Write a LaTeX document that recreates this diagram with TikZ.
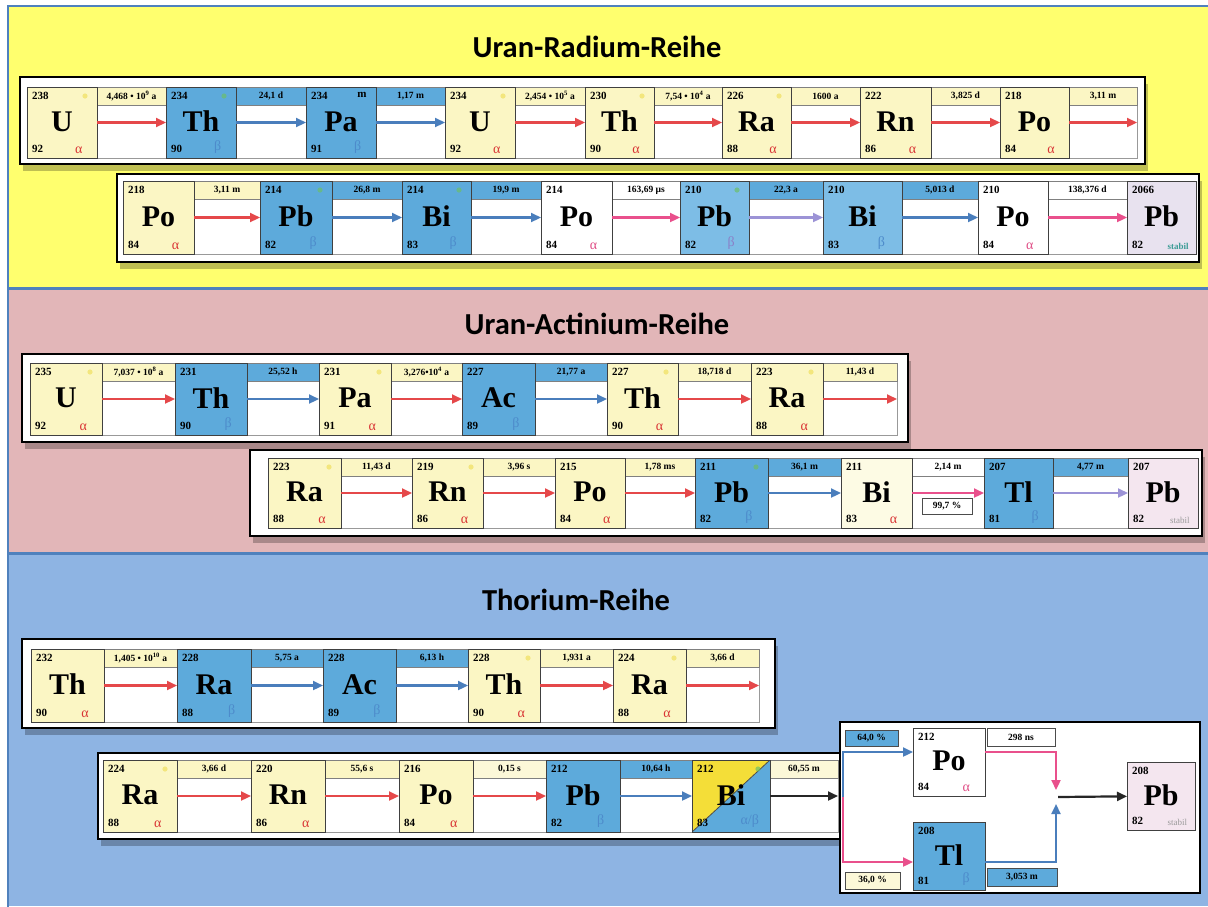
\documentclass[tikz,border=0pt]{standalone}
\usepackage{fontspec}
\setmainfont{Liberation Serif}
\newfontfamily\headfont{Carlito}
\usetikzlibrary{calc,arrows.meta}

% panel and box colours
\definecolor{PanelYellow}{HTML}{FFFF6E}
\definecolor{PanelPink}{HTML}{E2B6B8}
\definecolor{PanelBlue}{HTML}{8EB4E3}
\definecolor{PanelLine}{HTML}{4F81BD}
\definecolor{ElYellow}{HTML}{FBF6C4}
\definecolor{ElBlue}{HTML}{5DAADB}
\definecolor{ElBlueLt}{HTML}{7DBDE6}
\definecolor{ElCream}{HTML}{FDFBE4}
\definecolor{ElLav}{HTML}{E8E2EF}
\definecolor{ElLavPink}{HTML}{F4E6EF}
\definecolor{SplitYellow}{HTML}{F4DE38}
\definecolor{BandCream}{HTML}{FCF8D8}
% arrows and decay marks
\definecolor{ArRed}{HTML}{E5484A}
\definecolor{ArBlue}{HTML}{4A7EBC}
\definecolor{ArPink}{HTML}{E9508C}
\definecolor{ArViolet}{HTML}{9C93D6}
\definecolor{AlRed}{HTML}{D93535}
\definecolor{AlPink}{HTML}{E04E86}
\definecolor{BeBlue}{HTML}{4D8BCB}
\definecolor{BeViolet}{HTML}{8A80C8}
\definecolor{StabTeal}{HTML}{3C9C96}
\definecolor{StabGrey}{HTML}{9A9A9A}
\definecolor{SpotYellow}{HTML}{F0E060}
\definecolor{SpotGreen}{HTML}{6CBF6A}

\newcommand\decA{\textcolor{AlRed}{α}}
\newcommand\decAp{\textcolor{AlPink}{α}}
\newcommand\decB{\textcolor{BeBlue}{β}}
\newcommand\decBv{\textcolor{BeViolet}{β}}
\newcommand\decAB{\textcolor{BeBlue}{α/β}}
\newcommand\decStab{\textcolor{StabTeal}{\fontsize{9}{9}\selectfont\bfseries stabil}}
\newcommand\decStabG{\textcolor{StabGrey}{\fontsize{9}{9}\selectfont stabil}}
\newcommand\tenp[1]{10\textsuperscript{#1}}

% element box: name, left, right, fill style, mass, symbol, Z, decay
\newcommand\Elem[8]{%
  \node[elbox,#4,minimum width=#3-#2,minimum height=\ybot-\ytop,anchor=north west] (#1) at (#2,\ytop) {};
  \node[nums,anchor=north west] (#1-m) at ($(#1.north west)+(5,5)$) {#5};
  \node[symb] (#1-s) at ($(#1.center)+(0,-1)$) {#6};
  \node[nums,anchor=south west] (#1-z) at ($(#1.south west)+(5,-5)$) {#7};
  \node[decay,anchor=south] (#1-d) at ($(#1.south west)!0.74!(#1.south east)+(0,-4)$) {#8};
}
% decay cell between two boxes: name, left, right, band style, half-life
\newcommand\Trans[5]{%
  \draw[cell] (#2,\ytop) rectangle (#3,\ybot);
  \node[band,#4,minimum width=#3-#2,minimum height=\bandh,anchor=north west] (#1) at (#2,\ytop) {#5};
}
% white strip with drop shadow
\newcommand\Strip[4]{%
  \fill[stripshade] (#1+3,#2+7) rectangle (#3+3,#4+7);
  \draw[strip] (#1,#2) rectangle (#3,#4);
}
\newcommand\Spot[2]{\fill[#2] ($(#1.north east)+(-12,9)$) circle[radius=2.6pt];}

\begin{document}
\begin{tikzpicture}[x=1pt,y=-1pt,
  strip/.style={fill=white,draw=black,line width=1.3pt},
  stripshade/.style={fill=black,opacity=0.25},
  panel/.style={draw=PanelLine,line width=1.6pt},
  elbox/.style={draw=black!75,line width=0.9pt,inner sep=0pt,outer sep=0pt},
  cell/.style={fill=white,draw=black!40,line width=0.6pt},
  band/.style={draw=black!50,line width=0.6pt,inner sep=0pt,outer sep=0pt,
    font=\fontsize{9.5}{9.5}\selectfont\bfseries},
  lbl/.style={band,draw=black!70},
  yel/.style={fill=ElYellow}, blu/.style={fill=ElBlue}, blult/.style={fill=ElBlueLt},
  whi/.style={fill=white}, cream/.style={fill=ElCream}, lav/.style={fill=ElLav},
  lavp/.style={fill=ElLavPink},
  byel/.style={fill=ElYellow}, bblu/.style={fill=ElBlue}, bwhi/.style={fill=white},
  bcream/.style={fill=BandCream},
  split/.style={path picture={
    \fill[ElBlue] (path picture bounding box.north east) -- (path picture bounding box.south east)
      -- (path picture bounding box.south west) -- cycle;
    \fill[SplitYellow] (path picture bounding box.north west) -- (path picture bounding box.north east)
      -- (path picture bounding box.south west) -- cycle;
    \draw[black!70,line width=0.8pt] (path picture bounding box.south west) -- (path picture bounding box.north east);}},
  symb/.style={font=\fontsize{30}{30}\selectfont\bfseries,inner sep=0pt},
  nums/.style={font=\fontsize{11}{11}\selectfont\bfseries,inner sep=0pt},
  decay/.style={font=\fontsize{14}{14}\selectfont,inner sep=0pt},
  arr/.style={line width=2.2pt,-{Triangle[length=10pt,width=9pt]}},
  aarr/.style={arr,draw=ArRed}, barr/.style={arr,draw=ArBlue},
  parr/.style={arr,draw=ArPink}, varr/.style={arr,draw=ArViolet},
  karr/.style={arr,draw=black!85},
  spy/.style={SpotYellow,opacity=0.7}, spg/.style={SpotGreen,opacity=0.7},
  head/.style={font=\headfont\bfseries\fontsize{30.5}{30.5}\selectfont,inner sep=0pt}
]
\useasboundingbox (0,0) rectangle (1208,906);
\fill[white] (0,0) rectangle (1208,906);
\def\bandh{18}

% ---------- background panels ----------
\fill[PanelYellow] (8,6) rectangle (1208,288);
\fill[PanelPink] (8,289) rectangle (1208,553);
\fill[PanelBlue] (8,554) rectangle (1208,906);
\draw[panel] (8,6) rectangle (1210,288);
\draw[panel] (8,289) rectangle (1210,553);
\draw[panel] (8,554) rectangle (1210,908);

\node[head] (h1) at (597,47) {Uran-Radium-Reihe};
\node[head] (h2) at (597,324) {Uran-Actinium-Reihe};
\node[head] (h3) at (576,600) {Thorium-Reihe};

% ================= Uran-Radium-Reihe, line 1 =================
\Strip{20}{77}{1145}{164}
\def\ytop{87}\def\ybot{158}
\Trans{t11}{97}{166}{byel}{4,468 • \tenp{9} a}
\Trans{t12}{236}{306}{bblu}{24,1 d}
\Trans{t13}{376}{445}{bblu}{1,17 m}
\Trans{t14}{515}{585}{byel}{2,454 • \tenp{5} a}
\Trans{t15}{654}{722}{byel}{7,54 • \tenp{4} a}
\Trans{t16}{791}{860}{byel}{1600 a}
\Trans{t17}{931}{1000}{byel}{3,825 d}
\Trans{t18}{1069}{1137}{byel}{3,11 m}
\Elem{U238}{27}{97}{yel}{238}{U}{92}{\decA}
\Elem{Th234}{166}{236}{blu}{234}{Th}{90}{\decB}
\Elem{Pa234}{306}{376}{blu}{234}{Pa}{91}{\decB}
\node[nums,anchor=north] (Pa234-x) at ($(Pa234.north west)!0.8!(Pa234.north east)+(0,5)$) {m};
\Elem{U234}{445}{515}{yel}{234}{U}{92}{\decA}
\Elem{Th230}{585}{654}{yel}{230}{Th}{90}{\decA}
\Elem{Ra226}{722}{791}{yel}{226}{Ra}{88}{\decA}
\Elem{Rn222}{860}{931}{yel}{222}{Rn}{86}{\decA}
\Elem{Po218}{1000}{1069}{yel}{218}{Po}{84}{\decA}
\Spot{U238}{spy}\Spot{Th234}{spg}\Spot{U234}{spy}\Spot{Th230}{spy}\Spot{Ra226}{spy}
\coordinate (r1end) at (1137,122.5);
\draw[aarr] (U238) -- (Th234);
\draw[barr] (Th234) -- (Pa234);
\draw[barr] (Pa234) -- (U234);
\draw[aarr] (U234) -- (Th230);
\draw[aarr] (Th230) -- (Ra226);
\draw[aarr] (Ra226) -- (Rn222);
\draw[aarr] (Rn222) -- (Po218);
\draw[aarr] (Po218) -- (r1end);

% ================= Uran-Radium-Reihe, line 2 =================
\Strip{117}{174}{1199}{262}
\def\ytop{181}\def\ybot{254}
\Trans{t21}{194}{260}{byel}{3,11 m}
\Trans{t22}{332}{402}{bblu}{26,8 m}
\Trans{t23}{471}{541}{bblu}{19,9 m}
\Trans{t24}{612}{680}{bwhi}{163,69 µs}
\Trans{t25}{749}{823}{bblu}{22,3 a}
\Trans{t26}{902}{978}{bblu}{5,013 d}
\Trans{t27}{1048}{1127}{bwhi}{138,376 d}
\Elem{Po218b}{123}{194}{yel}{218}{Po}{84}{\decA}
\Elem{Pb214}{260}{332}{blu}{214}{Pb}{82}{\decB}
\Elem{Bi214}{402}{471}{blu}{214}{Bi}{83}{\decB}
\Elem{Po214}{541}{612}{whi}{214}{Po}{84}{\decAp}
\Elem{Pb210}{680}{749}{blult}{210}{Pb}{82}{\decBv}
\Elem{Bi210}{823}{902}{blult}{210}{Bi}{83}{\decB}
\Elem{Po210}{978}{1048}{whi}{210}{Po}{84}{\decAp}
\Elem{Pb206}{1127}{1196}{lav}{2066}{Pb}{82}{\decStab}
\Spot{Pb214}{spg}\Spot{Bi214}{spg}\Spot{Pb210}{spg}
\draw[aarr] (Po218b) -- (Pb214);
\draw[barr] (Pb214) -- (Bi214);
\draw[barr] (Bi214) -- (Po214);
\draw[parr] (Po214) -- (Pb210);
\draw[varr] (Pb210) -- (Bi210);
\draw[barr] (Bi210) -- (Po210);
\draw[parr] (Po210) -- (Pb206);

% ================= Uran-Actinium-Reihe, line 1 =================
\Strip{22}{354}{908}{442}
\def\ytop{363}\def\ybot{435}
\Trans{t31}{102}{175}{byel}{7,037 • \tenp{8} a}
\Trans{t32}{247}{319}{bblu}{25,52 h}
\Trans{t33}{391}{462}{byel}{3,276•\tenp{4} a}
\Trans{t34}{535}{607}{bblu}{21,77 a}
\Trans{t35}{678}{751}{byel}{18,718 d}
\Trans{t36}{823}{897}{byel}{11,43 d}
\Elem{U235}{30}{102}{yel}{235}{U}{92}{\decA}
\Elem{Th231}{175}{247}{blu}{231}{Th}{90}{\decB}
\Elem{Pa231}{319}{391}{yel}{231}{Pa}{91}{\decA}
\Elem{Ac227}{462}{535}{blu}{227}{Ac}{89}{\decB}
\Elem{Th227}{607}{678}{yel}{227}{Th}{90}{\decA}
\Elem{Ra223}{751}{823}{yel}{223}{Ra}{88}{\decA}
\Spot{U235}{spy}\Spot{Pa231}{spy}\Spot{Th227}{spy}\Spot{Ra223}{spy}
\coordinate (r3end) at (897,399);
\draw[aarr] (U235) -- (Th231);
\draw[barr] (Th231) -- (Pa231);
\draw[aarr] (Pa231) -- (Ac227);
\draw[barr] (Ac227) -- (Th227);
\draw[aarr] (Th227) -- (Ra223);
\draw[aarr] (Ra223) -- (r3end);

% ================= Uran-Actinium-Reihe, line 2 =================
\Strip{250}{450}{1202}{536}
\def\ytop{458}\def\ybot{528}
\Trans{t41}{341}{412}{byel}{11,43 d}
\Trans{t42}{483}{555}{byel}{3,96 s}
\Trans{t43}{625}{695}{byel}{1,78 ms}
\Trans{t44}{768}{841}{bblu}{36,1 m}
\Trans{t45}{912}{984}{bwhi}{2,14 m}
\Trans{t46}{1053}{1128}{bblu}{4,77 m}
\Elem{Ra223b}{268}{341}{yel}{223}{Ra}{88}{\decA}
\Elem{Rn219}{412}{483}{yel}{219}{Rn}{86}{\decA}
\Elem{Po215}{555}{625}{yel}{215}{Po}{84}{\decA}
\Elem{Pb211}{695}{768}{blu}{211}{Pb}{82}{\decB}
\Elem{Bi211}{841}{912}{cream}{211}{Bi}{83}{\decA}
\Elem{Tl207}{984}{1053}{blu}{207}{Tl}{81}{\decB}
\Elem{Pb207}{1128}{1198}{lavp}{207}{Pb}{82}{\decStabG}
\Spot{Ra223b}{spy}\Spot{Rn219}{spy}\Spot{Pb211}{spg}
\node[lbl,fill=white,minimum width=50,minimum height=16,anchor=north west] (pct997) at (922,498) {99,7 \%};
\draw[aarr] (Ra223b) -- (Rn219);
\draw[aarr] (Rn219) -- (Po215);
\draw[aarr] (Po215) -- (Pb211);
\draw[barr] (Pb211) -- (Bi211);
\draw[parr] (Bi211) -- (Tl207);
\draw[varr] (Tl207) -- (Pb207);

% ================= Thorium-Reihe, line 1 =================
\Strip{22}{639}{775}{728}
\def\ytop{649}\def\ybot{722}
\Trans{t51}{104}{177}{byel}{1,405 • \tenp{10} a}
\Trans{t52}{251}{323}{bblu}{5,75 a}
\Trans{t53}{396}{468}{bblu}{6,13 h}
\Trans{t54}{540}{613}{byel}{1,931 a}
\Trans{t55}{686}{759}{byel}{3,66 d}
\Elem{Th232}{31}{104}{yel}{232}{Th}{90}{\decA}
\Elem{Ra228}{177}{251}{blu}{228}{Ra}{88}{\decB}
\Elem{Ac228}{323}{396}{blu}{228}{Ac}{89}{\decB}
\Elem{Th228}{468}{540}{yel}{228}{Th}{90}{\decA}
\Elem{Ra224}{613}{686}{yel}{224}{Ra}{88}{\decA}
\Spot{Th228}{spy}\Spot{Ra224}{spy}
\coordinate (r5end) at (759,685.5);
\draw[aarr] (Th232) -- (Ra228);
\draw[barr] (Ra228) -- (Ac228);
\draw[barr] (Ac228) -- (Th228);
\draw[aarr] (Th228) -- (Ra224);
\draw[aarr] (Ra224) -- (r5end);

% ================= Thorium-Reihe, line 2 =================
\Strip{98}{753}{840}{839}
\def\ytop{760}\def\ybot{832}
\Trans{t61}{177}{251}{byel}{3,66 d}
\Trans{t62}{325}{399}{byel}{55,6 s}
\Trans{t63}{473}{546}{bcream}{0,15 s}
\Trans{t64}{620}{692}{bblu}{10,64 h}
\Trans{t65}{770}{838}{bcream}{60,55 m}
\Elem{Ra224b}{103}{177}{yel}{224}{Ra}{88}{\decA}
\Elem{Rn220}{251}{325}{yel}{220}{Rn}{86}{\decA}
\Elem{Po216}{399}{473}{yel}{216}{Po}{84}{\decA}
\Elem{Pb212}{546}{620}{blu}{212}{Pb}{82}{\decB}
\Elem{Bi212}{692}{770}{split}{212}{Bi}{83}{\decAB}
\Spot{Ra224b}{spy}\Spot{Bi212}{spg}
\coordinate (r6end) at (838,796);
\draw[aarr] (Ra224b) -- (Rn220);
\draw[aarr] (Rn220) -- (Po216);
\draw[aarr] (Po216) -- (Pb212);
\draw[barr] (Pb212) -- (Bi212);
\draw[karr] (Bi212) -- (r6end);

% ---------- branching of Bi-212 ----------
\draw[strip] (840,722) rectangle (1200,893);
\def\ytop{728}\def\ybot{796}
\Elem{Po212}{913}{985}{whi}{212}{Po}{84}{\decAp}
\def\ytop{822}\def\ybot{890}
\Elem{Tl208}{913}{985}{blu}{208}{Tl}{81}{\decB}
\def\ytop{762}\def\ybot{830}
\Elem{Pb208}{1127}{1195}{lavp}{208}{Pb}{82}{\decStabG}
\node[lbl,fill=ElBlue,minimum width=53,minimum height=16,anchor=north west] (p640) at (845,730) {64,0 \%};
\node[lbl,fill=white,minimum width=68,minimum height=18,anchor=north west] (hl298) at (987,728) {298 ns};
\node[lbl,fill=ElBlue,minimum width=70,minimum height=18,anchor=north west] (hl3053) at (987,868) {3,053 m};
\node[lbl,fill=BandCream,minimum width=55,minimum height=17,anchor=north west] (p360) at (845,872) {36,0 \%};
\coordinate (split) at (843,797);
\coordinate (brTop) at (843,752);
\coordinate (brBot) at (843,862);
\coordinate (tipA) at (1056,790);
\coordinate (tipB) at (1056,804);
\coordinate (merge) at (1058,797);
\draw[barr] (split) -- (brTop) -- (Po212.west |- brTop);
\draw[parr] (split) -- (brBot) -- (Tl208.west |- brBot);
\draw[parr] (Po212.east |- brTop) -| (tipA);
\draw[barr] (Tl208.east |- brBot) -| (tipB);
\draw[karr] (merge) -- (Pb208);
\end{tikzpicture}
\end{document}
